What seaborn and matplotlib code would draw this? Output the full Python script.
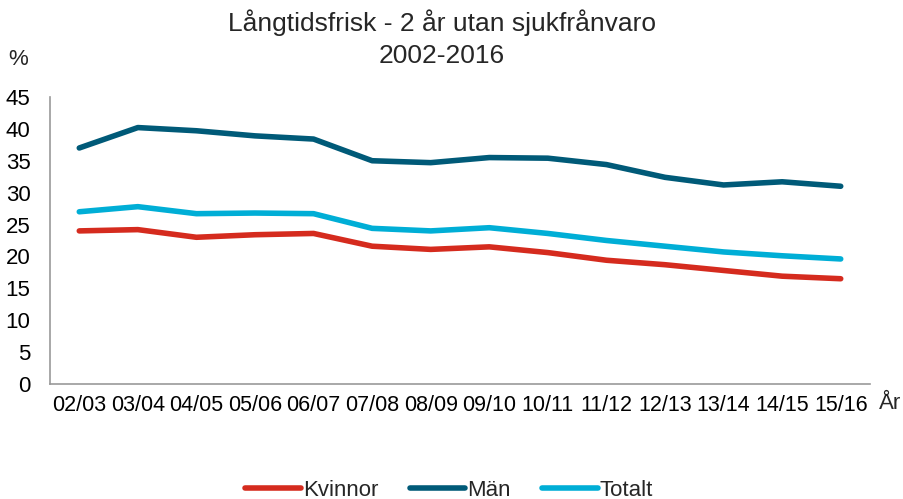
import pandas as pd
import seaborn as sns
import matplotlib.pyplot as plt

# Data
ar = ['02/03', '03/04', '04/05', '05/06', '06/07', '07/08', '08/09',
      '09/10', '10/11', '11/12', '12/13', '13/14', '14/15', '15/16']
kvinnor = [24.0, 24.2, 23.0, 23.4, 23.6, 21.6, 21.1, 21.5, 20.6, 19.4, 18.7, 17.8, 16.9, 16.5]
man = [37.0, 40.2, 39.7, 38.9, 38.4, 35.0, 34.7, 35.5, 35.4, 34.4, 32.4, 31.2, 31.7, 31.0]
totalt = [27.0, 27.8, 26.7, 26.8, 26.7, 24.4, 24.0, 24.5, 23.6, 22.5, 21.6, 20.7, 20.1, 19.6]

df = pd.DataFrame({'ar': ar, 'Kvinnor': kvinnor, 'Män': man, 'Totalt': totalt})
df_long = df.melt(id_vars='ar', var_name='grupp', value_name='procent')

sns.set_style('white')
plt.rcParams['font.family'] = ['Liberation Sans', 'DejaVu Sans']

fig = plt.figure(figsize=(9.04, 4.99), dpi=100)
ax = fig.add_axes([0.0553, 0.2305, 0.9071, 0.5752])

farger = {'Kvinnor': '#d52b1e', 'Män': '#005a78', 'Totalt': '#00aed6'}
sns.lineplot(data=df_long, x='ar', y='procent', hue='grupp', palette=farger,
             linewidth=4, sort=False, ax=ax, solid_capstyle='round')

ax.set_xlim(-0.5, 13.5)
ax.set_ylim(0, 45)
ax.set_yticks(range(0, 46, 5))
ax.set_xlabel('')
ax.set_ylabel('')
ax.tick_params(axis='both', length=0, labelsize=16, colors='black')
ax.tick_params(axis='x', pad=8, labelsize=15.5)
ax.tick_params(axis='y', pad=14)
for s in ['top', 'right']:
    ax.spines[s].set_visible(False)
for s in ['left', 'bottom']:
    ax.spines[s].set_color('#999999')
    ax.spines[s].set_linewidth(1.2)

fig.text(0.489, 0.955, 'Långtidsfrisk - 2 år utan sjukfrånvaro', ha='center', va='center', fontsize=19)
fig.text(0.489, 0.887, '2002-2016', ha='center', va='center', fontsize=19)
fig.text(0.02, 0.88, '%', ha='center', va='center', fontsize=16)
fig.text(0.984, 0.192, 'År', ha='center', va='center', fontsize=16)

ax.legend(loc='center', bbox_to_anchor=(0.487, -0.37), ncol=3, frameon=False,
          fontsize=16, handlelength=2.5, handletextpad=0.1, columnspacing=1.4)

fig.savefig('out.png', dpi=100)
